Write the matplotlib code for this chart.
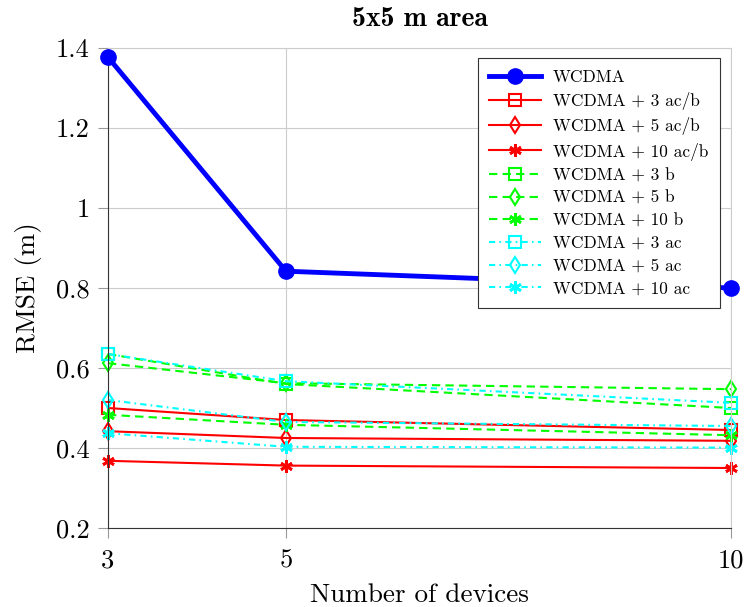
import matplotlib
matplotlib.use("Agg")
import matplotlib.pyplot as plt

x_devices = [3, 5, 10]
wcdma = [1.377, 0.842, 0.800]
acb3 = [0.500, 0.470, 0.445]
acb5 = [0.442, 0.425, 0.418]
acb10 = [0.368, 0.356, 0.350]
b3 = [0.635, 0.560, 0.500]
b5 = [0.612, 0.562, 0.547]
b10 = [0.483, 0.458, 0.432]
ac3 = [0.635, 0.567, 0.513]
ac5 = [0.520, 0.465, 0.455]
ac10 = [0.437, 0.403, 0.401]

labels = ["WCDMA", "WCDMA + 3 ac/b", "WCDMA + 5 ac/b", "WCDMA + 10 ac/b",
          "WCDMA + 3 b", "WCDMA + 5 b", "WCDMA + 10 b",
          "WCDMA + 3 ac", "WCDMA + 5 ac", "WCDMA + 10 ac"]
yticks = [0.2, 0.4, 0.6, 0.8, 1.0, 1.2, 1.4]
ytick_labels = ["0.2", "0.4", "0.6", "0.8", "1", "1.2", "1.4"]

plt.rcParams['font.family'] = ['cmr10', 'DejaVu Serif']
plt.rcParams['mathtext.fontset'] = 'cm'
plt.rcParams['axes.unicode_minus'] = False

fig = plt.figure(figsize=(7.44, 6.07), dpi=100)
ax = fig.add_axes([108/744, 1-528/607, (731-108)/744, (528-48)/607])

asterisk = (6, 2, 0)
dash = (0, (4, 2.5))
dashdot = (0, (3, 2, 0.8, 2))

ax.plot(x_devices, wcdma, color='#0000ff', lw=3.5, marker='o', ms=11, label=labels[0], clip_on=False, zorder=5)
ax.plot(x_devices, acb3, color='#ff0000', lw=1.5, marker='s', ms=8, mfc='none', mew=1.5, label=labels[1], clip_on=False)
ax.plot(x_devices, acb5, color='#ff0000', lw=1.5, marker='d', ms=8, mfc='none', mew=1.5, label=labels[2], clip_on=False)
ax.plot(x_devices, acb10, color='#ff0000', lw=1.5, marker=asterisk, ms=9, mew=2, label=labels[3], clip_on=False)
ax.plot(x_devices, b3, color='#00ff00', lw=1.5, ls=dash, marker='s', ms=8, mfc='none', mew=1.5, label=labels[4], clip_on=False)
ax.plot(x_devices, b5, color='#00ff00', lw=1.5, ls=dash, marker='d', ms=8, mfc='none', mew=1.5, label=labels[5], clip_on=False)
ax.plot(x_devices, b10, color='#00ff00', lw=1.5, ls=dash, marker=asterisk, ms=9, mew=2, label=labels[6], clip_on=False)
ax.plot(x_devices, ac3, color='#00ffff', lw=1.5, ls=dashdot, marker='s', ms=8, mfc='none', mew=1.5, label=labels[7], clip_on=False)
ax.plot(x_devices, ac5, color='#00ffff', lw=1.5, ls=dashdot, marker='d', ms=8, mfc='none', mew=1.5, label=labels[8], clip_on=False)
ax.plot(x_devices, ac10, color='#00ffff', lw=1.5, ls=dashdot, marker=asterisk, ms=9, mew=2, label=labels[9], clip_on=False)

ax.set_xlim(3, 10)
ax.set_ylim(0.2, 1.4)
ax.set_xticks(x_devices)
ax.set_xticklabels([str(v) for v in x_devices])
ax.set_yticks(yticks)
ax.set_yticklabels(ytick_labels)
ax.grid(True, color='#cccccc', lw=0.8)
ax.set_axisbelow(True)
for s in ['top', 'right']:
    ax.spines[s].set_color('#cccccc')
for s in ['left', 'bottom']:
    ax.spines[s].set_color('#333333')
ax.tick_params(axis='both', labelsize=19, color='#999999', length=7, width=0.8, pad=6)
ax.tick_params(axis='x', pad=8)
ax.set_xlabel("Number of devices", fontsize=19.5, labelpad=8)
ax.set_ylabel("RMSE (m)", fontsize=19.5, labelpad=10)
ax.set_title("5x5 m area", fontsize=20, fontfamily='cmb10', pad=16)

leg = ax.legend(loc='upper right', bbox_to_anchor=(0.982, 0.979), borderaxespad=0, fontsize=12.5, frameon=True,
                fancybox=False, edgecolor='#333333', framealpha=1, handlelength=3.0,
                labelspacing=0.42, borderpad=0.65, handletextpad=0.7)
leg.get_frame().set_linewidth(0.8)

fig.savefig("out.png", dpi=100)
